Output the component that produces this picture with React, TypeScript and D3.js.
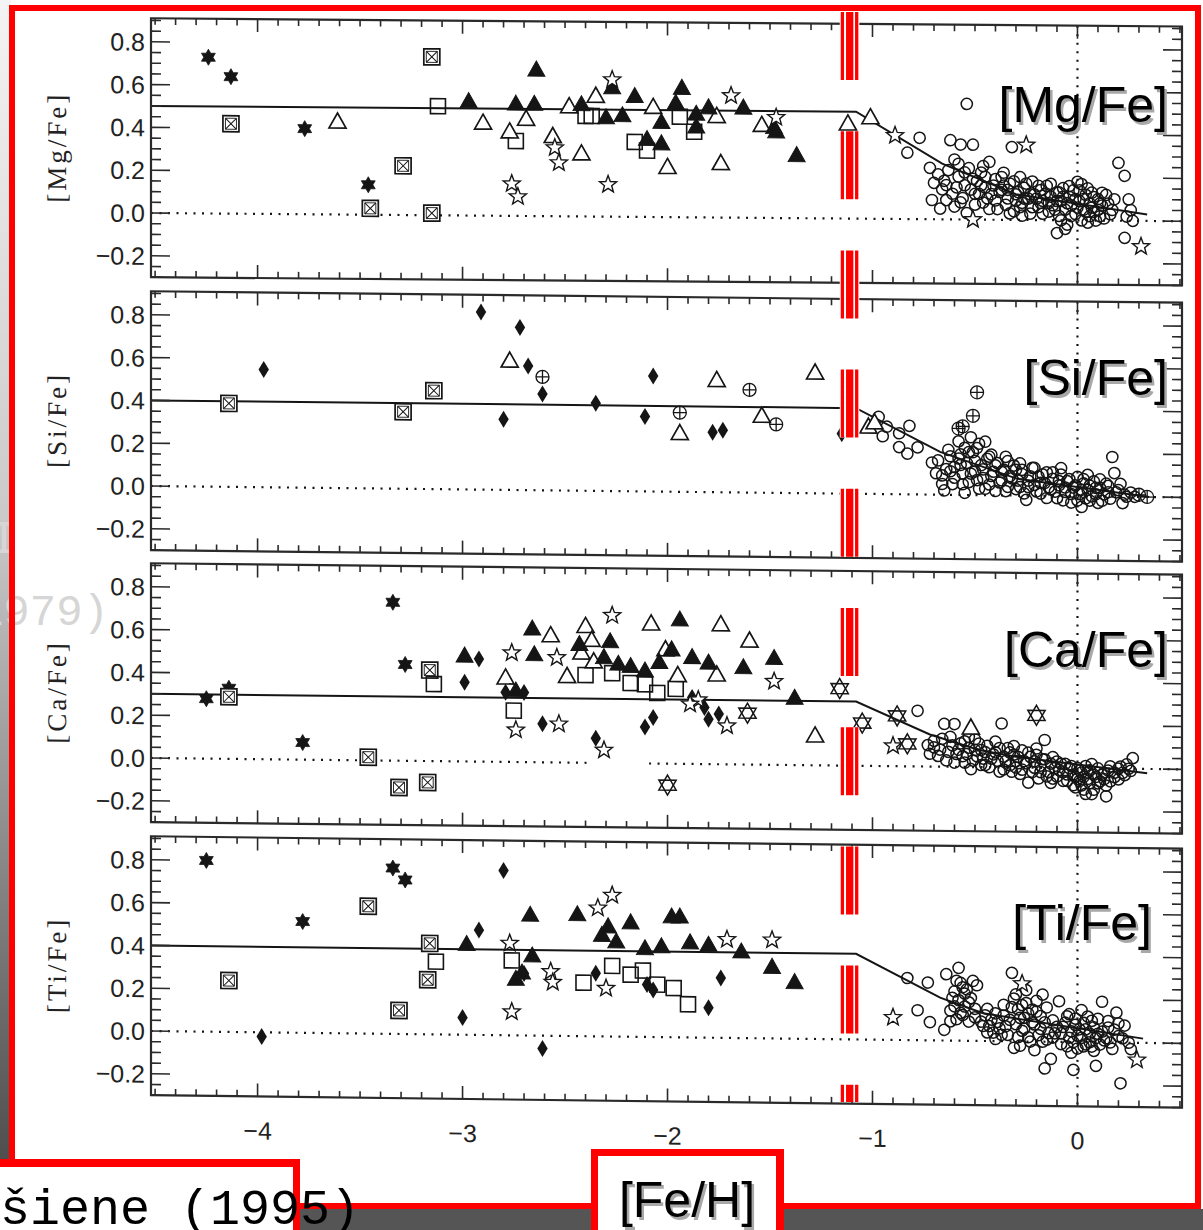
import React from 'react';
import * as d3 from 'd3';

type Pt = [number, number];

// ---------- tick labels ----------
const xTickLabels = [-4, -3, -2, -1, 0];
const yTickLabels = [0.8, 0.6, 0.4, 0.2, 0.0, -0.2];

// ---------- [Mg/Fe] ----------
const mgLine: Pt[] = [[-4.52, 0.50], [-1.08, 0.50], [-0.66, 0.26], [-0.3, 0.12], [0.34, 0.03]];
const mgSixStar: Pt[] = [[-4.24, 0.73], [-4.13, 0.64], [-3.77, 0.40], [-3.46, 0.14]];
const mgBoxX: Pt[] = [[-4.13, 0.42], [-3.29, 0.23], [-3.45, 0.03], [-3.15, 0.74], [-3.15, 0.01]];
const mgSquare: Pt[] = [[-3.12, 0.51], [-2.74, 0.35], [-2.40, 0.47], [-2.37, 0.47], [-2.16, 0.35], [-2.10, 0.31], [-1.94, 0.47], [-1.87, 0.40]];
const mgTriOpen: Pt[] = [[-3.61, 0.43], [-2.90, 0.43], [-2.77, 0.39], [-2.69, 0.45], [-2.56, 0.37], [-2.42, 0.29], [-2.48, 0.51], [-2.35, 0.56], [-2.07, 0.51], [-2.00, 0.23], [-1.76, 0.47], [-1.74, 0.25], [-1.54, 0.43], [-1.12, 0.44], [-1.01, 0.47]];
const mgTriFilled: Pt[] = [[-2.97, 0.53], [-2.64, 0.68], [-2.74, 0.52], [-2.65, 0.52], [-2.42, 0.52], [-2.27, 0.60], [-2.30, 0.46], [-2.22, 0.47], [-2.16, 0.56], [-2.10, 0.36], [-2.03, 0.34], [-2.03, 0.44], [-1.96, 0.53], [-1.93, 0.60], [-1.86, 0.48], [-1.86, 0.42], [-1.80, 0.51], [-1.63, 0.51], [-1.48, 0.42], [-1.47, 0.40], [-1.37, 0.29]];
const mgStar: Pt[] = [[-2.76, 0.15], [-2.73, 0.09], [-2.55, 0.32], [-2.53, 0.25], [-2.27, 0.64], [-2.29, 0.15], [-1.69, 0.57], [-1.47, 0.47], [-0.89, 0.39], [-0.25, 0.35], [-0.51, 0.0], [0.31, -0.12]];
const mgCircle: Pt[] = [[-0.83, 0.31], [-0.77, 0.38], [-0.72, 0.24], [-0.71, 0.09], [-0.66, 0.14], [-0.64, 0.09], [-0.62, 0.37], [-0.60, 0.28], [-0.58, 0.20], [-0.57, 0.35], [-0.55, 0.16], [-0.54, 0.54], [-0.53, 0.24], [-0.51, 0.35], [-0.50, 0.12], [-0.49, 0.18], [-0.47, 0.22], [-0.46, 0.08], [-0.45, 0.15], [-0.43, 0.27], [-0.42, 0.12], [-0.40, 0.19], [-0.39, 0.05], [-0.37, 0.14], [-0.36, 0.22], [-0.34, 0.10], [-0.33, 0.17], [-0.32, 0.34], [-0.31, 0.04], [-0.30, 0.12], [-0.28, 0.20], [-0.27, 0.08], [-0.26, 0.15], [-0.24, 0.10], [-0.23, 0.03], [-0.22, 0.18], [-0.21, 0.12], [-0.19, 0.06], [-0.18, 0.14], [-0.17, 0.09], [-0.15, 0.16], [-0.14, 0.04], [-0.13, 0.11], [-0.12, 0.07], [-0.10, -0.06], [-0.10, 0.13], [-0.09, 0.02], [-0.08, 0.09], [-0.07, 0.15], [-0.06, 0.05], [-0.05, -0.02], [-0.04, 0.11], [-0.03, 0.07], [-0.02, 0.14], [-0.01, 0.03], [0.00, 0.18], [0.01, 0.09], [0.02, 0.17], [0.03, 0.05], [0.04, 0.12], [0.05, -0.01], [0.06, 0.08], [0.07, 0.13], [0.08, 0.04], [0.10, 0.10], [0.11, 0.02], [0.12, 0.07], [0.14, 0.12], [0.16, 0.03], [0.20, 0.27], [0.23, 0.21], [0.23, -0.08], [0.25, 0.10], [0.26, 0.05], [0.24, 0.02], [0.27, 0.0]];
const mgCircleDense: Pt[] = [[-0.70, 0.17], [-0.68, 0.21], [-0.67, 0.05], [-0.65, 0.18], [-0.63, 0.23], [-0.61, 0.12], [-0.60, 0.06], [-0.59, 0.15], [-0.58, 0.26], [-0.56, 0.10], [-0.55, 0.22], [-0.54, 0.03], [-0.52, 0.14], [-0.51, 0.19], [-0.50, 0.07], [-0.48, 0.12], [-0.47, 0.16], [-0.46, 0.25], [-0.44, 0.10], [-0.43, 0.05], [-0.41, 0.16], [-0.40, 0.09], [-0.38, 0.13], [-0.37, 0.20], [-0.35, 0.07], [-0.34, 0.14], [-0.33, 0.03], [-0.31, 0.18], [-0.30, 0.09], [-0.29, 0.13], [-0.27, 0.02], [-0.26, 0.10], [-0.25, 0.17], [-0.23, 0.12], [-0.22, 0.06], [-0.20, 0.10], [-0.19, 0.16], [-0.17, 0.03], [-0.16, 0.12], [-0.14, 0.08], [-0.13, 0.17], [-0.11, 0.05], [-0.10, 0.09], [-0.08, 0.00], [-0.07, 0.11], [-0.06, -0.04], [-0.05, 0.08], [-0.04, 0.16], [-0.03, 0.02], [-0.01, 0.10], [0.00, 0.06], [0.01, 0.14], [0.02, 0.00], [0.03, 0.10], [0.04, 0.04], [0.05, 0.15], [0.06, 0.02], [0.07, 0.06], [0.08, 0.11], [0.09, 0.00], [0.10, 0.05], [0.12, 0.13], [0.13, 0.01], [0.15, 0.08], [0.17, 0.05], [0.18, 0.10], [-0.64, 0.16], [-0.57, 0.08], [-0.45, 0.20], [-0.36, 0.16], [-0.28, 0.06], [-0.18, 0.08], [-0.09, 0.13], [0.11, 0.08]];

// ---------- [Si/Fe] ----------
const siLine: Pt[] = [[-4.52, 0.40], [-1.08, 0.40], [-0.67, 0.20], [-0.3, 0.08], [0.35, 0.0]];
const siBoxX: Pt[] = [[-4.14, 0.39], [-3.29, 0.36], [-3.14, 0.46]];
const siDiamond: Pt[] = [[-3.97, 0.55], [-2.91, 0.83], [-2.72, 0.76], [-2.68, 0.58], [-2.61, 0.45], [-2.80, 0.33], [-2.35, 0.41], [-2.07, 0.54], [-2.11, 0.35], [-1.78, 0.28], [-1.73, 0.29], [-1.15, 0.28]];
const siTriOpen: Pt[] = [[-2.77, 0.60], [-1.94, 0.27], [-1.76, 0.52], [-1.54, 0.355], [-1.28, 0.56], [-1.02, 0.31], [-0.99, 0.33]];
const siCircPlus: Pt[] = [[-2.61, 0.53], [-1.94, 0.37], [-1.60, 0.48], [-1.47, 0.32], [-1.11, 0.52], [-1.11, 0.45], [-0.49, 0.48], [-0.51, 0.37], [-0.56, 0.32], [-0.58, 0.31], [0.30, 0.01], [0.34, 0.0]];
const siCircle: Pt[] = [[-0.97, 0.36], [-0.93, 0.315], [-0.95, 0.27], [-0.87, 0.285], [-0.82, 0.32], [-0.83, 0.19], [-0.78, 0.22], [-0.87, 0.22], [-0.71, 0.15], [-0.69, 0.10], [-0.66, 0.05], [-0.65, 0.02], [-0.64, 0.12], [-0.62, 0.18], [-0.60, 0.08], [-0.58, 0.25], [-0.57, 0.14], [-0.56, 0.05], [-0.55, 0.22], [-0.53, 0.20], [-0.52, 0.10], [-0.50, 0.16], [-0.49, 0.07], [-0.48, 0.24], [-0.46, 0.12], [-0.45, 0.03], [-0.43, 0.18], [-0.42, 0.09], [-0.40, 0.14], [-0.38, 0.06], [-0.37, 0.11], [-0.35, 0.02], [-0.34, 0.16], [-0.32, 0.08], [-0.30, 0.12], [-0.28, 0.04], [-0.27, 0.10], [-0.25, -0.02], [-0.24, 0.07], [-0.22, 0.13], [-0.21, 0.05], [-0.19, 0.09], [-0.18, 0.01], [-0.16, 0.06], [-0.15, 0.11], [-0.13, 0.03], [-0.12, 0.08], [-0.10, -0.01], [-0.09, 0.05], [-0.08, 0.10], [-0.06, 0.02], [-0.05, 0.07], [-0.03, -0.03], [-0.02, 0.04], [0.00, 0.09], [0.01, 0.01], [0.02, -0.05], [0.03, 0.06], [0.05, 0.03], [0.06, -0.02], [0.08, 0.07], [0.09, 0.01], [0.11, 0.04], [0.12, -0.02], [0.14, 0.06], [0.15, 0.02], [0.17, 0.185], [0.18, 0.11], [0.20, 0.03], [0.22, -0.03], [0.23, 0.01], [0.26, 0.02], [0.28, 0.0]];
const siCircleDense: Pt[] = [[-0.68, 0.16], [-0.66, 0.09], [-0.63, 0.21], [-0.61, 0.05], [-0.60, 0.13], [-0.58, 0.17], [-0.56, 0.10], [-0.55, 0.01], [-0.54, 0.15], [-0.53, 0.06], [-0.51, 0.20], [-0.50, 0.11], [-0.48, 0.03], [-0.47, 0.14], [-0.46, 0.08], [-0.44, 0.17], [-0.43, 0.05], [-0.41, 0.11], [-0.40, 0.02], [-0.39, 0.15], [-0.37, 0.07], [-0.36, 0.12], [-0.34, 0.04], [-0.33, 0.09], [-0.31, 0.14], [-0.30, 0.03], [-0.29, 0.07], [-0.27, 0.12], [-0.26, 0.01], [-0.24, 0.04], [-0.23, 0.09], [-0.21, 0.13], [-0.20, 0.02], [-0.18, 0.06], [-0.17, 0.10], [-0.15, -0.01], [-0.14, 0.04], [-0.12, 0.11], [-0.11, 0.02], [-0.09, 0.07], [-0.07, -0.02], [-0.06, 0.04], [-0.04, 0.08], [-0.03, 0.01], [-0.01, 0.05], [0.00, -0.02], [0.02, 0.03], [0.03, 0.08], [0.04, -0.01], [0.06, 0.05], [0.07, 0.00], [0.09, 0.04], [0.10, -0.03], [0.11, 0.08], [0.13, 0.01], [0.15, 0.05], [0.16, -0.01], [0.19, 0.02], [0.21, 0.06], [0.24, 0.00], [-0.49, 0.22], [-0.52, 0.27], [-0.45, 0.25], [-0.42, 0.19], [-0.35, 0.18], [-0.57, 0.19], [-0.62, 0.11], [-0.28, 0.15], [-0.08, 0.13], [0.05, 0.10]];

// ---------- [Ca/Fe] ----------
const caLine: Pt[] = [[-4.52, 0.30], [-1.08, 0.30], [-0.72, 0.15], [-0.48, 0.08], [-0.3, 0.05], [0.34, -0.02]];
const caSixStar: Pt[] = [[-4.25, 0.28], [-4.14, 0.33], [-3.78, 0.08], [-3.34, 0.74], [-3.28, 0.45]];
const caBoxX: Pt[] = [[-4.14, 0.29], [-3.46, 0.015], [-3.31, -0.125], [-3.16, 0.425], [-3.17, -0.10]];
const caSquare: Pt[] = [[-3.14, 0.36], [-2.75, 0.24], [-2.40, 0.41], [-2.27, 0.42], [-2.18, 0.375], [-2.11, 0.37], [-2.05, 0.33], [-1.96, 0.35]];
const caTriOpen: Pt[] = [[-2.79, 0.39], [-2.57, 0.59], [-2.49, 0.40], [-2.40, 0.635], [-2.37, 0.57], [-2.42, 0.51], [-2.36, 0.47], [-2.08, 0.65], [-2.01, 0.53], [-1.95, 0.41], [-1.74, 0.65], [-1.76, 0.415], [-1.60, 0.575], [-1.28, 0.135], [-0.52, 0.18]];
const caTriFilled: Pt[] = [[-2.99, 0.49], [-2.74, 0.33], [-2.66, 0.62], [-2.65, 0.50], [-2.43, 0.55], [-2.28, 0.565], [-2.31, 0.49], [-2.24, 0.46], [-2.18, 0.45], [-2.11, 0.43], [-2.04, 0.47], [-1.98, 0.53], [-1.94, 0.67], [-1.88, 0.495], [-1.80, 0.47], [-1.63, 0.45], [-1.48, 0.495], [-1.38, 0.31]];
const caDiamond: Pt[] = [[-2.92, 0.48], [-2.99, 0.37], [-2.79, 0.325], [-2.70, 0.325], [-2.61, 0.18], [-2.35, 0.115], [-2.11, 0.17], [-2.07, 0.215], [-1.88, 0.31], [-1.82, 0.265], [-1.80, 0.21], [-1.75, 0.235]];
const caStar: Pt[] = [[-2.76, 0.51], [-2.74, 0.15], [-2.54, 0.49], [-2.53, 0.18], [-2.27, 0.69], [-2.31, 0.06], [-1.85, 0.30], [-1.89, 0.28], [-1.71, 0.18], [-1.48, 0.39], [-0.90, 0.095]];
const caDavid: Pt[] = [[-2.00, -0.10], [-1.61, 0.24], [-1.16, 0.36], [-1.05, 0.20], [-0.88, 0.235], [-0.83, 0.105], [-0.20, 0.245]];
const caCircle: Pt[] = [[-0.78, 0.26], [-0.73, 0.10], [-0.72, 0.06], [-0.70, 0.12], [-0.67, 0.08], [-0.65, 0.20], [-0.64, 0.03], [-0.62, 0.14], [-0.60, 0.20], [-0.59, 0.06], [-0.57, 0.11], [-0.55, 0.02], [-0.53, 0.09], [-0.52, -0.01], [-0.50, 0.13], [-0.49, 0.05], [-0.47, 0.08], [-0.45, 0.01], [-0.44, 0.10], [-0.42, 0.04], [-0.40, 0.07], [-0.38, -0.02], [-0.37, 0.205], [-0.36, 0.05], [-0.34, 0.09], [-0.33, 0.01], [-0.31, 0.06], [-0.30, 0.03], [-0.28, -0.03], [-0.27, 0.08], [-0.25, 0.02], [-0.24, -0.07], [-0.23, 0.05], [-0.21, 0.00], [-0.20, 0.06], [-0.18, -0.02], [-0.17, 0.04], [-0.16, 0.13], [-0.15, -0.04], [-0.13, 0.02], [-0.12, -0.05], [-0.10, 0.03], [-0.09, -0.01], [-0.07, -0.06], [-0.06, 0.02], [-0.05, -0.03], [-0.03, 0.01], [-0.02, -0.08], [-0.01, -0.04], [0.00, 0.00], [0.01, -0.06], [0.02, -0.02], [0.03, -0.10], [0.04, 0.01], [0.05, -0.05], [0.06, -0.01], [0.07, -0.12], [0.08, -0.03], [0.10, 0.00], [0.11, -0.06], [0.13, -0.02], [0.14, -0.08], [0.16, 0.01], [0.18, -0.04], [0.20, 0.00], [0.22, -0.02], [0.24, 0.02], [0.26, -0.01], [0.27, 0.05]];
const caCircleDense: Pt[] = [[-0.70, 0.09], [-0.68, 0.05], [-0.66, 0.13], [-0.63, 0.07], [-0.61, 0.10], [-0.60, 0.02], [-0.58, 0.08], [-0.56, 0.05], [-0.55, 0.12], [-0.54, 0.06], [-0.51, 0.03], [-0.50, 0.08], [-0.48, 0.11], [-0.46, 0.04], [-0.45, 0.07], [-0.43, 0.00], [-0.41, 0.06], [-0.39, 0.03], [-0.38, 0.09], [-0.36, -0.01], [-0.35, 0.03], [-0.33, 0.07], [-0.32, -0.02], [-0.30, 0.00], [-0.29, 0.05], [-0.27, -0.01], [-0.26, 0.03], [-0.24, 0.07], [-0.22, -0.02], [-0.21, 0.03], [-0.19, -0.05], [-0.18, 0.01], [-0.16, 0.04], [-0.14, -0.02], [-0.13, -0.07], [-0.11, 0.00], [-0.10, -0.04], [-0.08, 0.02], [-0.07, -0.02], [-0.05, -0.06], [-0.04, 0.00], [-0.02, -0.03], [-0.01, -0.09], [0.00, -0.05], [0.01, -0.01], [0.02, -0.08], [0.03, -0.04], [0.04, -0.12], [0.05, -0.02], [0.06, -0.07], [0.08, -0.10], [0.09, -0.04], [0.10, -0.07], [0.12, -0.03], [0.13, -0.05], [0.15, -0.01], [0.16, -0.06], [0.18, -0.02], [0.20, -0.05], [0.21, 0.01], [0.23, -0.03], [0.25, 0.00], [-0.53, 0.14], [-0.47, 0.01], [-0.40, 0.12], [-0.31, 0.10], [-0.20, 0.09], [-0.12, 0.05], [0.07, 0.02], [0.14, -0.13]];

// ---------- [Ti/Fe] ----------
const tiLine: Pt[] = [[-4.52, 0.40], [-1.08, 0.40], [-0.67, 0.20], [-0.46, 0.13], [0.32, 0.02]];
const tiSixStar: Pt[] = [[-4.25, 0.80], [-3.78, 0.52], [-3.34, 0.775], [-3.28, 0.72]];
const tiBoxX: Pt[] = [[-4.14, 0.24], [-3.46, 0.595], [-3.31, 0.11], [-3.16, 0.425], [-3.17, 0.255]];
const tiSquare: Pt[] = [[-3.13, 0.34], [-2.76, 0.35], [-2.41, 0.25], [-2.27, 0.33], [-2.18, 0.29], [-2.12, 0.31], [-2.05, 0.245], [-1.97, 0.23], [-1.90, 0.155]];
const tiDiamond: Pt[] = [[-3.98, -0.02], [-3.00, 0.08], [-2.92, 0.49], [-2.80, 0.77], [-2.70, 0.29], [-2.61, -0.06], [-2.35, 0.295], [-2.10, 0.245], [-2.07, 0.22], [-1.74, 0.28], [-1.80, 0.14]];
const tiTriFilled: Pt[] = [[-2.98, 0.42], [-2.74, 0.26], [-2.71, 0.29], [-2.66, 0.37], [-2.67, 0.56], [-2.44, 0.565], [-2.29, 0.51], [-2.32, 0.47], [-2.25, 0.44], [-2.18, 0.53], [-2.11, 0.41], [-2.03, 0.42], [-1.98, 0.56], [-1.94, 0.56], [-1.89, 0.44], [-1.80, 0.43], [-1.64, 0.40], [-1.49, 0.33], [-1.38, 0.26]];
const tiStar: Pt[] = [[-2.77, 0.43], [-2.76, 0.11], [-2.57, 0.30], [-2.56, 0.25], [-2.34, 0.60], [-2.27, 0.66], [-2.30, 0.225], [-1.71, 0.46], [-1.49, 0.46], [-0.90, 0.105], [-0.27, 0.27], [0.29, -0.08]];
const tiCircle: Pt[] = [[-0.83, 0.29], [-0.73, 0.27], [-0.78, 0.14], [-0.72, 0.085], [-0.64, 0.31], [-0.59, 0.28], [-0.51, 0.28], [-0.58, 0.34], [-0.60, 0.16], [-0.57, 0.13], [-0.62, 0.09], [-0.65, 0.05], [-0.55, 0.22], [-0.53, 0.18], [-0.56, 0.25], [-0.61, 0.20], [-0.50, 0.11], [-0.46, 0.07], [-0.44, 0.04], [-0.42, 0.10], [-0.40, 0.01], [-0.38, 0.06], [-0.36, 0.12], [-0.34, 0.03], [-0.32, 0.32], [-0.31, 0.20], [-0.30, 0.08], [-0.29, 0.15], [-0.28, -0.02], [-0.27, 0.05], [-0.26, 0.11], [-0.25, 0.18], [-0.24, 0.02], [-0.22, 0.09], [-0.21, -0.04], [-0.20, 0.14], [-0.18, 0.06], [-0.17, 0.22], [-0.16, -0.125], [-0.15, 0.01], [-0.13, -0.08], [-0.12, 0.10], [-0.11, 0.04], [-0.09, 0.19], [-0.08, -0.01], [-0.07, 0.07], [-0.05, 0.12], [-0.04, 0.02], [-0.03, -0.05], [-0.02, -0.13], [-0.01, 0.08], [0.00, 0.03], [0.02, 0.15], [0.03, -0.02], [0.04, 0.06], [0.06, 0.00], [0.07, 0.10], [0.08, -0.04], [0.09, -0.11], [0.10, 0.04], [0.12, 0.19], [0.13, 0.01], [0.15, 0.07], [0.17, -0.03], [0.19, 0.14], [0.20, 0.03], [0.21, -0.19], [0.23, 0.08], [0.25, 0.00], [0.26, -0.03]];
const tiCircleDense: Pt[] = [[-0.62, 0.14], [-0.60, 0.23], [-0.59, 0.10], [-0.58, 0.19], [-0.57, 0.27], [-0.56, 0.12], [-0.55, 0.16], [-0.54, 0.24], [-0.53, 0.09], [-0.52, 0.20], [-0.50, 0.15], [-0.49, 0.26], [-0.47, 0.09], [-0.45, 0.12], [-0.43, 0.07], [-0.41, 0.04], [-0.40, 0.13], [-0.39, 0.09], [-0.37, 0.03], [-0.35, 0.07], [-0.33, 0.10], [-0.32, 0.16], [-0.31, -0.03], [-0.30, 0.22], [-0.29, 0.02], [-0.28, 0.11], [-0.27, 0.17], [-0.26, 0.06], [-0.25, 0.24], [-0.24, 0.13], [-0.23, 0.00], [-0.22, 0.15], [-0.21, 0.08], [-0.20, 0.19], [-0.19, 0.03], [-0.18, 0.12], [-0.16, 0.09], [-0.15, 0.16], [-0.14, 0.04], [-0.12, 0.02], [-0.10, 0.07], [-0.08, 0.04], [-0.06, 0.09], [-0.05, -0.02], [-0.04, 0.13], [-0.03, 0.05], [-0.02, 0.00], [-0.01, 0.11], [0.00, -0.03], [0.01, 0.06], [0.02, 0.02], [0.03, 0.09], [0.04, -0.01], [0.05, 0.12], [0.06, 0.04], [0.07, -0.02], [0.08, 0.07], [0.09, 0.02], [0.10, 0.11], [0.11, -0.01], [0.12, 0.05], [0.14, 0.02], [0.15, 0.10], [0.16, 0.00], [0.18, 0.06], [0.20, 0.09], [0.22, 0.02], [-0.36, 0.17], [-0.44, 0.15], [-0.17, 0.00]];

// ---------- layout ----------
const X_DOMAIN: [number, number] = [-4.52, 0.51];
const X_RANGE: [number, number] = [151, 1182];
const Y_DOMAIN: [number, number] = [-0.30, 0.91];
const PX_PER_UNIT = 214;
const INK = '#151515';

type SymKind = 'circle' | 'circplus' | 'tri' | 'trif' | 'square' | 'boxx' | 'star' | 'diamond' | 'sixstar' | 'david';

interface PanelCfg {
  label: string;
  zeroY: number;
  skew: number;
  line: Pt[];
  series: { kind: SymKind; data: Pt[] }[];
  dotGap?: [number, number];
  axisLabels?: boolean;
}

const panels: PanelCfg[] = [
  {
    label: '[Mg/Fe]', zeroY: 213, skew: 0.008, line: mgLine,
    series: [
      { kind: 'circle', data: mgCircle }, { kind: 'circle', data: mgCircleDense }, { kind: 'sixstar', data: mgSixStar },
      { kind: 'boxx', data: mgBoxX }, { kind: 'square', data: mgSquare }, { kind: 'tri', data: mgTriOpen },
      { kind: 'trif', data: mgTriFilled }, { kind: 'star', data: mgStar },
    ],
  },
  {
    label: '[Si/Fe]', zeroY: 486, skew: 0.011, line: siLine,
    series: [
      { kind: 'circle', data: siCircle }, { kind: 'circle', data: siCircleDense }, { kind: 'boxx', data: siBoxX },
      { kind: 'diamond', data: siDiamond }, { kind: 'tri', data: siTriOpen }, { kind: 'circplus', data: siCircPlus },
    ],
  },
  {
    label: '[Ca/Fe]', zeroY: 758, skew: 0.011, line: caLine, dotGap: [-2.37, -2.09],
    series: [
      { kind: 'circle', data: caCircle }, { kind: 'circle', data: caCircleDense }, { kind: 'sixstar', data: caSixStar },
      { kind: 'boxx', data: caBoxX }, { kind: 'square', data: caSquare }, { kind: 'tri', data: caTriOpen },
      { kind: 'trif', data: caTriFilled }, { kind: 'diamond', data: caDiamond }, { kind: 'star', data: caStar },
      { kind: 'david', data: caDavid },
    ],
  },
  {
    label: '[Ti/Fe]', zeroY: 1031, skew: 0.012, line: tiLine, axisLabels: true,
    series: [
      { kind: 'circle', data: tiCircle }, { kind: 'circle', data: tiCircleDense }, { kind: 'sixstar', data: tiSixStar },
      { kind: 'boxx', data: tiBoxX }, { kind: 'square', data: tiSquare }, { kind: 'diamond', data: tiDiamond },
      { kind: 'trif', data: tiTriFilled }, { kind: 'star', data: tiStar },
    ],
  },
];

const panelLabelPos = [
  { x: 1168, y: 122 },
  { x: 1168, y: 395 },
  { x: 1168, y: 667 },
  { x: 1152, y: 940 },
];

function starPath(n: number, ro: number, ri: number): string {
  let s = '';
  for (let i = 0; i < 2 * n; i++) {
    const r = i % 2 ? ri : ro;
    const a = -Math.PI / 2 + (i * Math.PI) / n;
    s += (i ? 'L' : 'M') + (r * Math.cos(a)).toFixed(2) + ',' + (r * Math.sin(a)).toFixed(2);
  }
  return s + 'Z';
}
function triPath(r: number, up: boolean): string {
  const pts = [0, 1, 2].map((i) => {
    const a = (up ? -Math.PI / 2 : Math.PI / 2) + (i * 2 * Math.PI) / 3;
    return [r * Math.cos(a), r * Math.sin(a)];
  });
  return 'M' + pts.map((p) => p[0].toFixed(2) + ',' + p[1].toFixed(2)).join('L') + 'Z';
}
const STAR5 = starPath(5, 9, 3.8);
const SIX = starPath(6, 8, 4.6);
const TRI = 'M0,-9.5L8.5,5.5L-8.5,5.5Z';
const DAVID_UP = triPath(10, true);
const DAVID_DN = triPath(10, false);

function Marker({ kind, x, y }: { kind: SymKind; x: number; y: number }) {
  const t = `translate(${x.toFixed(2)},${y.toFixed(2)})`;
  switch (kind) {
    case 'circle':
      return <circle cx={x} cy={y} r={5.6} fill="none" stroke={INK} strokeWidth={1.5} />;
    case 'circplus':
      return (
        <g transform={t} stroke={INK} strokeWidth={1.3} fill="none">
          <circle r={6.5} />
          <path d="M-6.5,0H6.5M0,-6.5V6.5" />
        </g>
      );
    case 'tri':
      return <path transform={t} d={TRI} fill="white" stroke={INK} strokeWidth={1.7} />;
    case 'trif':
      return <path transform={t} d={TRI} fill={INK} stroke={INK} strokeWidth={1} />;
    case 'square':
      return <rect x={x - 7.5} y={y - 7.5} width={15} height={15} fill="none" stroke={INK} strokeWidth={1.6} />;
    case 'boxx':
      return (
        <g transform={t} stroke={INK} fill="white">
          <rect x={-8} y={-8} width={16} height={16} strokeWidth={1.7} />
          <rect x={-5.5} y={-5.5} width={11} height={11} strokeWidth={0.9} fill="none" />
          <path d="M-5.5,-5.5L5.5,5.5M5.5,-5.5L-5.5,5.5" strokeWidth={1} />
        </g>
      );
    case 'star':
      return <path transform={t} d={STAR5} fill="white" stroke={INK} strokeWidth={1.4} />;
    case 'diamond':
      return <path transform={t} d="M0,-8.5L5.2,0L0,8.5L-5.2,0Z" fill={INK} />;
    case 'sixstar':
      return <path transform={t} d={SIX} fill={INK} stroke={INK} strokeWidth={0.8} />;
    case 'david':
      return (
        <g transform={t} fill="none" stroke={INK} strokeWidth={1.5}>
          <path d={DAVID_UP} />
          <path d={DAVID_DN} />
        </g>
      );
    default:
      return null;
  }
}

const xScale = d3.scaleLinear().domain(X_DOMAIN).range(X_RANGE);
const fmtY = (v: number) => d3.format('.1f')(v).replace('-', '\u2212');
const fmtX = (v: number) => d3.format('d')(v).replace('-', '\u2212');

function Panel({ cfg }: { cfg: PanelCfg }) {
  const y = d3
    .scaleLinear()
    .domain(Y_DOMAIN)
    .range([cfg.zeroY - Y_DOMAIN[0] * PX_PER_UNIT, cfg.zeroY - Y_DOMAIN[1] * PX_PER_UNIT]);
  const [x0, x1] = X_RANGE;
  const yTop = y(Y_DOMAIN[1]);
  const yBot = y(Y_DOMAIN[0]);
  const line = d3
    .line<Pt>()
    .x((d) => xScale(d[0]))
    .y((d) => y(d[1]));

  const xTicks = d3.range(-45, 6).map((i) => ({ v: i / 10, major: i % 10 === 0 }));
  const yTicks = d3.range(-6, 19).map((i) => ({ v: i * 0.05, major: i % 4 === 0 }));

  const k = cfg.skew;
  const transform = `matrix(1 ${k} 0 1 0 ${(-k * x0).toFixed(3)})`;

  const dotSegs: [number, number][] = cfg.dotGap
    ? [[X_DOMAIN[0], cfg.dotGap[0]], [cfg.dotGap[1], X_DOMAIN[1]]]
    : [[X_DOMAIN[0], X_DOMAIN[1]]];

  return (
    <g transform={transform}>
      {dotSegs.map((s, i) => (
        <line key={i} x1={xScale(s[0])} x2={xScale(s[1])} y1={y(0)} y2={y(0)} stroke={INK} strokeWidth={2.2} strokeDasharray="2 6.5" />
      ))}
      <line x1={xScale(0)} x2={xScale(0)} y1={yTop} y2={yBot} stroke={INK} strokeWidth={2.2} strokeDasharray="2 6.5" />
      <path d={line(cfg.line) || ''} fill="none" stroke={INK} strokeWidth={2} />
      {cfg.series.map((s, si) => (
        <g key={si}>
          {s.data.map((d, i) => (
            <Marker key={i} kind={s.kind} x={xScale(d[0])} y={y(d[1])} />
          ))}
        </g>
      ))}
      <rect x={x0} y={yTop} width={x1 - x0} height={yBot - yTop} fill="none" stroke="#2a2a2a" strokeWidth={2.2} />
      {xTicks.map((t, i) => {
        const xx = xScale(t.v);
        const len = t.major ? 13 : 6.5;
        return (
          <g key={i} stroke="#2a2a2a" strokeWidth={1.6}>
            <line x1={xx} x2={xx} y1={yBot} y2={yBot - len} />
            <line x1={xx} x2={xx} y1={yTop} y2={yTop + len} />
          </g>
        );
      })}
      {yTicks.map((t, i) => {
        const yy = y(t.v);
        const len = t.major ? 19 : 10;
        return (
          <g key={i} stroke="#2a2a2a" strokeWidth={1.6}>
            <line x1={x0} x2={x0 + len} y1={yy} y2={yy} />
            <line x1={x1} x2={x1 - len} y1={yy} y2={yy} />
          </g>
        );
      })}
      {yTickLabels.map((v, i) => (
        <text key={i} x={145} y={y(v)} dy="0.36em" textAnchor="end" fontFamily="Liberation Sans, Arial, sans-serif" fontSize={25} fill="#222">
          {fmtY(v)}
        </text>
      ))}
      {cfg.axisLabels &&
        xTickLabels.map((v, i) => (
          <text key={i} x={xScale(v)} y={yBot + 43} textAnchor="middle" fontFamily="Liberation Sans, Arial, sans-serif" fontSize={25} fill="#222">
            {fmtX(v)}
          </text>
        ))}
      <text
        transform={`translate(66,${cfg.zeroY - 65}) rotate(-90)`}
        textAnchor="middle"
        fontFamily="Liberation Serif, Times New Roman, serif"
        fontSize={27}
        letterSpacing={3}
        fill="#222"
      >
        {cfg.label}
      </text>
    </g>
  );
}

export default function App() {
  const W = 1203;
  const H = 1230;
  const redX = [842.4, 849.7, 856.7];
  const redW = [3.3, 7.3, 3.3];
  const dash = '68 51.2';
  return (
    <div style={{ position: 'absolute', left: 0, top: 0, width: W, height: H }}>
      <svg width={W} height={H} style={{ display: 'block' }}>
        <defs>
          <linearGradient id="leftStrip" x1="0" y1="0" x2="0" y2="1">
            <stop offset="0" stopColor="#f4f4f4" />
            <stop offset="0.45" stopColor="#c9c9c9" />
            <stop offset="1" stopColor="#4e4e4e" />
          </linearGradient>
        </defs>
        <rect x={0} y={0} width={W} height={H} fill="white" />
        <rect x={0} y={0} width={11} height={1162} fill="url(#leftStrip)" />
        <text x={4} y={553} textAnchor="middle" fontFamily="Liberation Mono, Courier New, monospace" fontSize={46} fill="#d6d6d6">
          I
        </text>
        <text x={109} y={625} textAnchor="end" fontFamily="Liberation Mono, Courier New, monospace" fontSize={44} fill="#d6d6d6">
          (1979)
        </text>

        {panels.map((p, i) => (
          <Panel key={i} cfg={p} />
        ))}

        {panels.map((p, i) => (
          <g key={i} fontFamily="Liberation Sans, Arial, sans-serif" fontSize={50} textAnchor="end">
            <text x={panelLabelPos[i].x + 2.5} y={panelLabelPos[i].y + 2.5} fill="#a8a8a8">
              {p.label}
            </text>
            <text x={panelLabelPos[i].x} y={panelLabelPos[i].y} fill="#000">
              {p.label}
            </text>
          </g>
        ))}

        {redX.map((x, i) => (
          <line key={'w' + i} x1={x} x2={x} y1={12} y2={1102} stroke="white" strokeWidth={redW[i] + 2} strokeDasharray={dash} />
        ))}
        {redX.map((x, i) => (
          <line key={'r' + i} x1={x} x2={x} y1={12} y2={1102} stroke="#ff0000" strokeWidth={redW[i]} strokeDasharray={dash} />
        ))}

        <rect x={9} y={5} width={1192} height={6} fill="#ff0000" />
        <rect x={9} y={5} width={6} height={1157} fill="#ff0000" />
        <rect x={1195} y={5} width={6} height={1204} fill="#ff0000" />
        <rect x={298} y={1203} width={903} height={6} fill="#ff0000" />

        <rect x={298} y={1209} width={W - 298} height={H - 1209} fill="#555555" />

        <rect x={0} y={1159} width={300} height={H - 1159} fill="white" />
        <rect x={0} y={1159} width={300} height={8} fill="#ff0000" />
        <rect x={293} y={1159} width={7} height={H - 1159} fill="#ff0000" />
        <text x={0} y={1224} fontFamily="Liberation Mono, Courier New, monospace" fontSize={50} fill="#000">
          šiene (1995)
        </text>

        <rect x={591} y={1149} width={193} height={H - 1149} fill="#ff0000" />
        <rect x={598} y={1156} width={178} height={H - 1156} fill="white" />
        <text x={689.5} y={1219.5} textAnchor="middle" fontFamily="Liberation Sans, Arial, sans-serif" fontSize={50} fill="#a8a8a8">
          [Fe/H]
        </text>
        <text x={687} y={1217} textAnchor="middle" fontFamily="Liberation Sans, Arial, sans-serif" fontSize={50} fill="#000">
          [Fe/H]
        </text>
      </svg>
    </div>
  );
}
